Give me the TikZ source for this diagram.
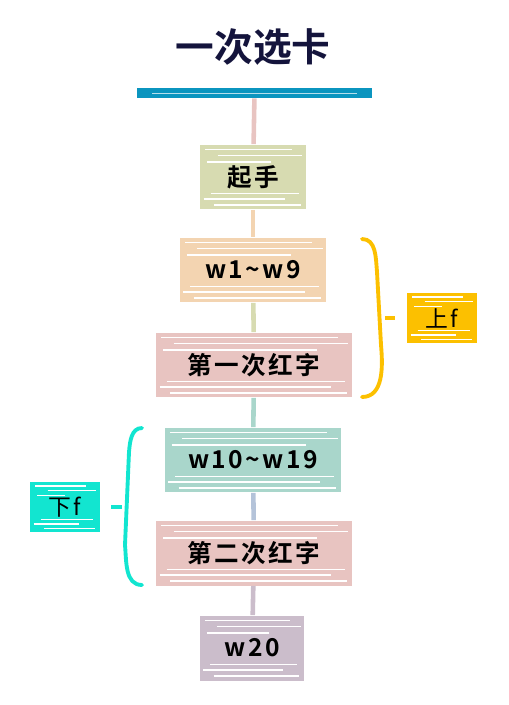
\documentclass[tikz,border=0pt]{standalone}
\usepackage{fontspec}
\usepackage{xcolor}
\usepackage{tikz}
\usetikzlibrary{calc}
\newfontfamily\cjk{Noto Sans CJK SC}[BoldFont={* Bold}]

\definecolor{navy}{HTML}{14143C}
\definecolor{barblue}{HTML}{0B95BF}
\definecolor{olivecard}{HTML}{D7DBB1}
\definecolor{peachcard}{HTML}{F3D4B1}
\definecolor{rosecard}{HTML}{E8C4C1}
\definecolor{mintcard}{HTML}{A9D6CB}
\definecolor{lilaccard}{HTML}{CBBDCB}
\definecolor{linkgray}{HTML}{B4C3D9}
\definecolor{gold}{HTML}{FCC000}
\definecolor{aqua}{HTML}{12E5D0}

\newcommand\boxstreaks{%
  \foreach \f/\l/\r in {0.08/3/8,0.17/10/2,0.27/4/20,0.75/6/4,0.84/2/12,0.93/8/3}{%
    \draw[white,line width=0.8pt,shorten <=\l pt,shorten >=\r pt]
      ($(path picture bounding box.north west)!\f!(path picture bounding box.south west)$) --
      ($(path picture bounding box.north east)!\f!(path picture bounding box.south east)$);}}

\tikzset{
  card/.style={fill=#1, minimum height=1.3cm, inner sep=0pt, text=black,
    font=\cjk\bfseries\fontsize{14}{16}\selectfont\addfontfeature{LetterSpace=10},
    path picture={\boxstreaks}},
  tag/.style={fill=#1, minimum width=1.4cm, minimum height=1cm, inner sep=0pt,
    text=black, font=\cjk\fontsize{13}{15}\selectfont\addfontfeature{LetterSpace=8},
    path picture={\boxstreaks}},
  link/.style={draw=#1, line width=2.6pt},
  brace/.style={draw=#1, line width=2.2pt, line cap=round},
}

\begin{document}
\begin{tikzpicture}[x=0.02cm,y=-0.02cm]
\useasboundingbox (0,0) rectangle (509,705);

% title and bar
\node (title) at (253,47) [text=navy, font=\cjk\bfseries\fontsize{22}{26}\selectfont] {一次选卡};
\node (bar) at (254.5,93) [fill=barblue, minimum width=4.7cm, minimum height=0.2cm, inner sep=0pt,
  path picture={\draw[white!70!barblue, line width=0.4pt]
    ($(path picture bounding box.west)+(0.3cm,0)$) -- ($(path picture bounding box.east)+(-0.3cm,0)$);}] {};

% steps
\node (qishou) at (253,177) [card=olivecard, minimum width=2.12cm] {起手};
\node (w1) at (253,270) [card=peachcard, minimum width=2.94cm] {w1\textasciitilde w9};
\node (red1) at (254,365) [card=rosecard, minimum width=3.92cm] {第一次红字};
\node (w10) at (253,460) [card=mintcard, minimum width=3.54cm] {w10\textasciitilde w19};
\node (red2) at (254,553) [card=rosecard, minimum width=3.92cm] {第二次红字};
\node (w20) at (252,648) [card=lilaccard, minimum width=2.1cm] {w20};

\draw[link=rosecard] (bar) -- (qishou);
\draw[link=peachcard] (qishou) -- (w1);
\draw[link=olivecard] (w1) -- (red1);
\draw[link=mintcard] (red1) -- (w10);
\draw[link=linkgray] (w10) -- (red2);
\draw[link=lilaccard] (red2) -- (w20);

% upper half
\node (upf) at (442,318) [tag=gold] {上f};
\coordinate (rtop) at (362,239);
\coordinate (rbot) at (362,397);
\coordinate (rtip) at (385,318);
\draw[brace=gold] (rtop) to[out=0,in=95] (377,272) -- (381,345) to[out=-85,in=0] (rbot);
\draw[gold, line width=2pt] (rtip) -- ++(10,0);

% lower half
\node (downf) at (65,507) [tag=aqua] {下f};
\coordinate (ltop) at (142,428);
\coordinate (lbot) at (142,585);
\coordinate (ltip) at (122,507);
\draw[brace=aqua] (ltop) to[out=180,in=85] (129,452) -- (125,545) to[out=-85,in=180] (lbot);
\draw[aqua, line width=2pt] (ltip) -- ++(-11,0);

\end{tikzpicture}
\end{document}
